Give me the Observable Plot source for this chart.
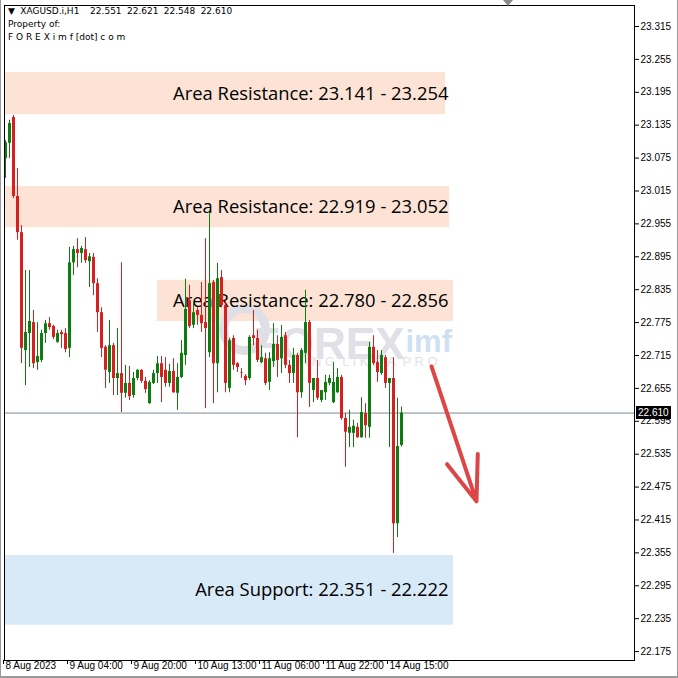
<!DOCTYPE html>
<html>
<head>
<meta charset="utf-8">
<script src="https://cdn.jsdelivr.net/npm/d3@7"></script>
<script src="https://cdn.jsdelivr.net/npm/@observablehq/plot@0.6"></script>
<style>
  html, body { margin: 0; padding: 0; background: #ffffff; }
  #wrap { position: relative; width: 678px; height: 678px; overflow: hidden; background: #fff; }
  #wrap svg { position: absolute; left: 0; top: 0; }
  .hdr { position: absolute; left: 8px; font-family: "DejaVu Sans", Verdana, sans-serif; font-size: 9px; color: #000; white-space: pre; line-height: 1; }
  #h1 { word-spacing: 2.5px; }
  #tag { position: absolute; background: #000; color: #fff; font-family: "Liberation Sans", Arial, sans-serif; font-size: 10px; line-height: 13px; height: 13px; padding: 0 2px; }
  #shift { position: absolute; left: 503px; top: 0; width: 0; height: 0; border-left: 5px solid transparent; border-right: 5px solid transparent; border-top: 6px solid #8a8a8a; }
  .edge { position: absolute; background: #9a9a9a; }
</style>
</head>
<body>
<div id="wrap"></div>
<script>
// ---------- data (XAGUSD.i, H1) ----------
const openPx = [
  23.074, 23.102, 23.149, 23.005, 22.939, 22.724, 22.755, 22.775, 22.702, 22.706,
  22.755, 22.773, 22.768, 22.739, 22.757, 22.755, 22.728, 22.884, 22.908, 22.901,
  22.908, 22.886, 22.894, 22.846, 22.793, 22.730, 22.684, 22.733, 22.673, 22.682,
  22.646, 22.664, 22.642, 22.673, 22.688, 22.668, 22.627, 22.664, 22.682, 22.700,
  22.688, 22.664, 22.686, 22.646, 22.675, 22.715, 22.815, 22.770, 22.797, 22.788,
  22.775, 22.720, 22.848, 22.700, 22.857, 22.806, 22.655, 22.746, 22.700, 22.684,
  22.677, 22.673, 22.751, 22.746, 22.702, 22.709, 22.666, 22.704, 22.735, 22.709,
  22.751, 22.697, 22.682, 22.715, 22.647, 22.719, 22.775, 22.651, 22.673, 22.633,
  22.647, 22.664, 22.629, 22.647, 22.675, 22.600, 22.573, 22.573, 22.584, 22.565,
  22.609, 22.584, 22.730, 22.702, 22.682, 22.711, 22.664, 22.673, 22.408, 22.551
];
const highPx = [
  23.107, 23.144, 23.153, 23.056, 22.952, 22.870, 22.870, 22.797, 22.775, 22.761,
  22.779, 22.784, 22.770, 22.761, 22.761, 22.764, 22.912, 22.914, 22.928, 22.914,
  22.930, 22.901, 22.901, 22.855, 22.802, 22.733, 22.779, 22.737, 22.764, 22.884,
  22.697, 22.695, 22.684, 22.689, 22.689, 22.675, 22.669, 22.688, 22.713, 22.713,
  22.711, 22.699, 22.709, 22.700, 22.742, 22.854, 22.843, 22.812, 22.802, 22.848,
  22.928, 22.976, 22.852, 22.883, 22.870, 22.815, 22.746, 22.751, 22.702, 22.691,
  22.680, 22.751, 22.797, 22.761, 22.733, 22.719, 22.720, 22.773, 22.751, 22.770,
  22.757, 22.706, 22.728, 22.719, 22.728, 22.834, 22.779, 22.673, 22.706, 22.651,
  22.679, 22.679, 22.702, 22.691, 22.679, 22.609, 22.615, 22.597, 22.591, 22.638,
  22.627, 22.739, 22.751, 22.724, 22.724, 22.715, 22.673, 22.711, 22.637, 22.621
];
const lowPx = [
  23.038, 23.074, 23.001, 22.925, 22.700, 22.660, 22.693, 22.691, 22.688, 22.702,
  22.737, 22.761, 22.744, 22.737, 22.728, 22.720, 22.711, 22.861, 22.875, 22.883,
  22.883, 22.839, 22.824, 22.757, 22.711, 22.655, 22.664, 22.642, 22.642, 22.611,
  22.637, 22.633, 22.637, 22.669, 22.664, 22.646, 22.626, 22.662, 22.664, 22.629,
  22.657, 22.657, 22.646, 22.615, 22.673, 22.697, 22.764, 22.764, 22.770, 22.757,
  22.618, 22.711, 22.627, 22.647, 22.802, 22.647, 22.647, 22.688, 22.684, 22.673,
  22.660, 22.669, 22.733, 22.702, 22.700, 22.660, 22.651, 22.693, 22.675, 22.682,
  22.691, 22.664, 22.664, 22.565, 22.637, 22.700, 22.620, 22.629, 22.633, 22.629,
  22.633, 22.660, 22.627, 22.646, 22.597, 22.511, 22.547, 22.547, 22.564, 22.564,
  22.564, 22.564, 22.697, 22.666, 22.679, 22.655, 22.547, 22.354, 22.383, 22.548
];
const closePx = [
  23.103, 23.138, 23.005, 22.939, 22.728, 22.757, 22.777, 22.700, 22.713, 22.755,
  22.773, 22.766, 22.748, 22.755, 22.753, 22.726, 22.884, 22.908, 22.901, 22.910,
  22.888, 22.895, 22.846, 22.793, 22.728, 22.688, 22.733, 22.673, 22.682, 22.646,
  22.664, 22.640, 22.673, 22.688, 22.668, 22.653, 22.666, 22.682, 22.700, 22.675,
  22.664, 22.686, 22.647, 22.675, 22.719, 22.799, 22.768, 22.793, 22.788, 22.773,
  22.764, 22.846, 22.700, 22.855, 22.806, 22.664, 22.742, 22.697, 22.693, 22.683,
  22.669, 22.748, 22.746, 22.706, 22.711, 22.664, 22.709, 22.735, 22.706, 22.748,
  22.697, 22.682, 22.715, 22.647, 22.724, 22.775, 22.664, 22.673, 22.637, 22.651,
  22.666, 22.673, 22.666, 22.675, 22.600, 22.575, 22.584, 22.586, 22.565, 22.611,
  22.587, 22.730, 22.700, 22.684, 22.715, 22.664, 22.673, 22.408, 22.549, 22.610
];

// time axis: bar index of each label and its text
const xTickBars = [0, 16, 32, 48, 64, 80, 96];
const xTickLabels = ["8 Aug 2023", "9 Aug 04:00", "9 Aug 20:00", "10 Aug 13:00", "11 Aug 06:00", "11 Aug 22:00", "14 Aug 15:00"];

// price axis labels
const yTickValues = [23.315, 23.255, 23.195, 23.135, 23.075, 23.015, 22.955, 22.895, 22.835, 22.775,
                     22.715, 22.655, 22.595, 22.535, 22.475, 22.415, 22.355, 22.295, 22.235, 22.175];

// drawn zones (rectangles on the chart): bar span and price span
const zoneStartBar = [0, 0, 38, 0];
const zoneEndBar   = [110, 111, 112, 112];
const zoneLowPx    = [23.154, 22.948, 22.777, 22.223];
const zoneHighPx   = [23.231, 23.023, 22.852, 22.350];
const zoneKind     = ["resistance", "resistance", "resistance", "support"];
const zoneText     = ["Area Resistance: 23.141 - 23.254", "Area Resistance: 22.919 - 23.052",
                      "Area Resistance: 22.780 - 22.856", "Area Support: 22.351 - 22.222"];
const zoneLabelBar = 110.75;

// projected move arrow (bar index, price)
const arrowBars   = [106.5, 117.75];
const arrowPrices = [22.695, 22.449];

const lastPrice = 22.610;
const headerLine = "XAGUSD.i,H1  22.551 22.621 22.548 22.610";
const priceDomain = [22.1587, 23.3533];
const barDomain = [-0.25, 157.25];

// ---------- tables ----------
const candles = openPx.map((o, i) => ({i, o, h: highPx[i], l: lowPx[i], c: closePx[i], up: closePx[i] >= o}));
const zones = zoneKind.map((k, j) => ({kind: k, x1: zoneStartBar[j], x2: zoneEndBar[j], lo: zoneLowPx[j], hi: zoneHighPx[j],
                                       mid: (zoneLowPx[j] + zoneHighPx[j]) / 2, text: zoneText[j]}));
const arrows = [{x1: arrowBars[0], y1: arrowPrices[0], x2: arrowBars[1], y2: arrowPrices[1]}];
const labelOf = new Map(xTickBars.map((b, k) => [b, xTickLabels[k]]));

const UP = "#0e7d10", DOWN = "#d71f1f";
const zoneFill = k => k === "support" ? "#d8e9f8" : "#fce3d5";

const plot = Plot.plot({
  width: 678,
  height: 678,
  marginLeft: 4,
  marginRight: 44,
  marginTop: 5,
  marginBottom: 18,
  style: {background: "transparent", fontFamily: "'Liberation Sans', Arial, sans-serif", fontSize: "10px", color: "#000"},
  x: {domain: barDomain, axis: null},
  y: {domain: priceDomain, axis: null},
  marks: [
    Plot.rect(zones, {x1: "x1", x2: "x2", y1: "lo", y2: "hi", fill: d => zoneFill(d.kind)}),
    // faint watermark
    Plot.dot([0], {frameAnchor: "top-left", dx: 240, dy: 324, r: 21, stroke: "#dedee4", strokeWidth: 9, fill: "none"}),
    Plot.text(["FOREX"], {frameAnchor: "top-left", dx: 400, dy: 322, textAnchor: "end", fontSize: 44, fontWeight: "bold", fill: "#e0e0e6"}),
    Plot.text(["imf"], {frameAnchor: "top-left", dx: 401, dy: 324, textAnchor: "start", fontSize: 31, fontWeight: "bold", fill: "#cfe1f1"}),
    Plot.text(["T R A D I N G  L I K E  A  P R O"], {frameAnchor: "top-left", dx: 252, dy: 351, textAnchor: "start", fontSize: 13, fill: "#e2e2e6"}),
    // zone labels
    Plot.text(zones, {x: () => zoneLabelBar, y: "mid", text: "text", textAnchor: "end", lineAnchor: "middle",
                      fontSize: 18.4, fontFamily: "'Open Sans', sans-serif", fill: "#000"}),
    // last price line
    Plot.ruleY([lastPrice], {stroke: "#7b8894", strokeWidth: 1}),
    // candles
    Plot.ruleX(candles, {x: "i", y1: "l", y2: "h", stroke: d => d.up ? UP : DOWN, strokeWidth: 1}),
    Plot.ruleX(candles, {x: "i", y1: "o", y2: "c", stroke: d => d.up ? UP : DOWN, strokeWidth: 3}),
    // arrow
    Plot.arrow(arrows, {x1: "x1", y1: "y1", x2: "x2", y2: "y2", stroke: "#dc4646", strokeWidth: 4, headLength: 18, headAngle: 40}),
    // axes
    Plot.axisY(yTickValues, {anchor: "right", tickSize: 4, tickPadding: 2, tickFormat: d => d.toFixed(3), fontSize: 10, fill: "#000"}),
    Plot.axisX(xTickBars, {anchor: "bottom", tickSize: 4, tickFormat: () => "", dx: -2}),
    Plot.axisX(xTickBars, {anchor: "bottom", tickSize: 0, tickPadding: 1, tickFormat: b => labelOf.get(b), textAnchor: "start", fontSize: 10, fill: "#000"}),
    Plot.frame({stroke: "#000"})
  ]
});

const wrap = document.getElementById("wrap");
wrap.appendChild(plot);

// header lines
const h1 = document.createElement("div");
h1.className = "hdr"; h1.id = "h1"; h1.style.top = "7px"; h1.textContent = "\u25BC " + headerLine;
const h2 = document.createElement("div");
h2.className = "hdr"; h2.style.top = "20px"; h2.textContent = "Property of:";
const h3 = document.createElement("div");
h3.className = "hdr"; h3.style.top = "33px"; h3.textContent = "F O R E X i m f [dot] c o m";
wrap.append(h1, h2, h3);

// chart-shift marker and window edges
const shift = document.createElement("div");
shift.id = "shift";
wrap.appendChild(shift);
[["0px", "0px", "1px", "678px"], ["677px", "0px", "1px", "678px"], ["0px", "676px", "678px", "2px"]].forEach(([l, t, w, h]) => {
  const e = document.createElement("div");
  e.className = "edge";
  e.style.left = l; e.style.top = t; e.style.width = w; e.style.height = h;
  wrap.appendChild(e);
});

// last price tag, placed with the plot's own y scale
const yPix = plot.scale("y").apply(lastPrice);
const tag = document.createElement("div");
tag.id = "tag";
tag.textContent = lastPrice.toFixed(3);
tag.style.left = "636px";
tag.style.top = (yPix - 6.5) + "px";
wrap.appendChild(tag);
</script>
</body>
</html>
